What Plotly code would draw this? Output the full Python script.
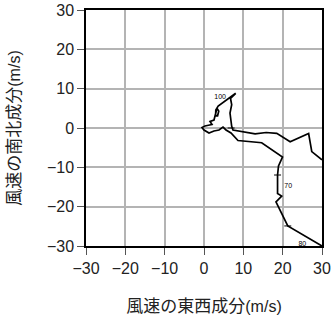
import plotly.graph_objects as go

# Hodograph path (u = east-west, v = north-south), m/s
u = [30.0, 27.4, 26.6, 21.9, 18.5, 15.8, 13.0, 7.37,
     7.04, 6.86, 6.61, 7.04, 6.74, 8.06, 4.32,
     3.6, 3.0, 2.95, 3.45, 3.75, 3.3,
     2.54, 1.53, 2.03, 0.25, -0.51, 0.0, 1.27, 2.54, 3.81, 4.83, 5.6, 6.86,
     8.64, 14.67, 19.96, 18.94, 18.7, 18.7, 18.7, 19.75, 18.3, 21.3, 30.0]
v = [-8.1, -6.0, -1.4, -3.5, -1.35, -1.15, -1.5, -0.51,
     0.43, 1.70, 3.81, 5.92, 7.50, 8.82, 6.28,
     5.6, 4.6, 3.1, 3.1, 4.3, 5.0,
     2.03, 1.65, 0.89, 0.51, 0.13, -0.51, -1.27, -0.76, -0.51, 0.25, -0.5, -1.27,
     -3.18, -3.74, -7.37, -9.66, -11.95, -14.75, -16.65, -17.3, -18.8, -24.9, -30.0]

# level labels
label_u = [4.1, 21.4, 25.0]
label_v = [7.9, -14.7, -29.6]
label_text = ["100", "70", "80"]

# small tick marks on the path
tick_u = [18.7, 6.9, 21.3]
tick_v = [-11.95, 0.0, -24.9]

tickvals = [-30, -20, -10, 0, 10, 20, 30]
ticktext = ["\u221230", "\u221220", "\u221210", "0", "10", "20", "30"]

FONT = "Liberation Sans, Arial, Noto Sans CJK JP, sans-serif"

fig = go.Figure()
fig.add_trace(go.Scatter(x=u, y=v, mode="lines",
                         line=dict(color="black", width=1.7), hoverinfo="skip"))
fig.add_trace(go.Scatter(x=tick_u, y=tick_v, mode="markers",
                         marker=dict(symbol="line-ew-open", size=5, color="black",
                                     line=dict(color="black", width=1)),
                         hoverinfo="skip"))
fig.add_trace(go.Scatter(x=label_u, y=label_v, mode="text", text=label_text,
                         textfont=dict(size=7, color="black", family=FONT),
                         hoverinfo="skip"))

axis_common = dict(
    range=[-30, 30], tickvals=tickvals, ticktext=ticktext,
    showgrid=True, gridcolor="#b4b4b4", gridwidth=1.6,
    zeroline=False, showline=True, linecolor="black", linewidth=1.5,
    mirror=True, ticks="outside", ticklen=7, tickcolor="#555555", tickwidth=1,
    tickfont=dict(size=16, color="#222222", family=FONT),
    fixedrange=True, automargin=False,
)

fig.update_layout(
    width=332, height=319,
    margin=dict(l=86, r=10, t=10, b=73),
    plot_bgcolor="white", paper_bgcolor="white",
    showlegend=False,
    font=dict(family=FONT, color="#222222"),
    xaxis=dict(**axis_common,
               title=dict(text="風速の東西成分<span style='font-size:16px'>(m/s)</span>",
                          font=dict(size=17, family=FONT), standoff=24)),
    yaxis=dict(**axis_common,
               title=dict(text="風速の南北成分<span style='font-size:16px'>(m/s)</span>",
                          font=dict(size=17, family=FONT), standoff=22)),
)

fig.write_html("out.html")
